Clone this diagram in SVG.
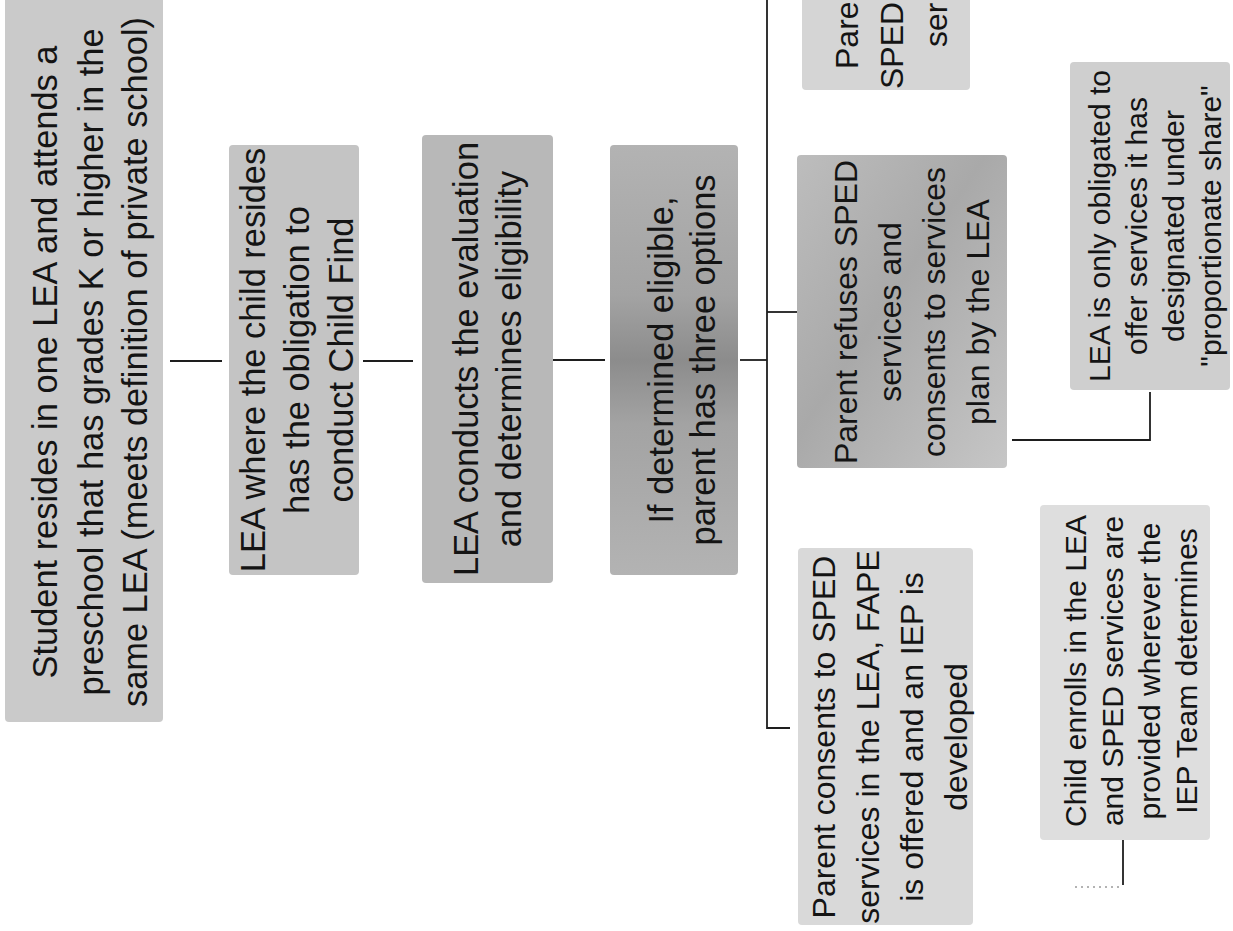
<svg xmlns="http://www.w3.org/2000/svg" width="1233" height="931" viewBox="0 0 1233 931">
<defs>
<style>
.box{stroke:none;}
.t{font-family:"Liberation Sans",Arial,sans-serif;fill:#141414;}
.big{font-size:34.4px;}
.mid{font-size:32px;}
.sm{font-size:30px;}
.c{text-anchor:middle;}
.conn{fill:none;stroke:#1e1e1e;stroke-width:1.8;}
.faint{fill:none;stroke:#9a9a9a;stroke-width:1.4;stroke-dasharray:2 4;}
</style>
<linearGradient id="g4" x1="0" y1="0" x2="0" y2="1">
<stop offset="0" stop-color="#b3b3b3"/>
<stop offset="0.35" stop-color="#a3a3a3"/>
<stop offset="0.5" stop-color="#8c8c8c"/>
<stop offset="0.65" stop-color="#a3a3a3"/>
<stop offset="1" stop-color="#b3b3b3"/>
</linearGradient>
<linearGradient id="gr" x1="0" y1="0" x2="1" y2="1">
<stop offset="0" stop-color="#bdbdbd"/>
<stop offset="0.45" stop-color="#a9a9a9"/>
<stop offset="1" stop-color="#c6c6c6"/>
</linearGradient>
</defs>
<rect width="1233" height="931" fill="#ffffff"/>

<g id="connectors">
<line class="conn" x1="170" y1="361" x2="222" y2="361"/>
<line class="conn" x1="363" y1="361" x2="413" y2="361"/>
<line class="conn" x1="553" y1="360" x2="605" y2="360"/>
<line class="conn" x1="740" y1="360" x2="767" y2="360"/>
<polyline class="conn" points="767,0 767,728 790,728"/>
<line class="conn" x1="767" y1="312" x2="797" y2="312"/>
<polyline class="conn" points="1012,440 1150,440 1150,392"/>
<line class="conn" x1="1123" y1="840" x2="1123" y2="885"/>
<line class="faint" x1="1075" y1="887" x2="1123" y2="887"/>
</g>

<g id="node-student">
<rect class="box" x="5" y="-5" width="158" height="727" rx="4" fill="#cacaca"/>
<text class="t big c" transform="translate(57,362) rotate(-90)"><tspan x="0" y="0">Student resides in one LEA and attends a</tspan><tspan x="0" y="46">preschool that has grades K or higher in the</tspan><tspan x="0" y="90">same LEA (meets definition of private school)</tspan></text>
</g>

<g id="node-childfind">
<rect class="box" x="229" y="145" width="130" height="430" rx="4" fill="#c4c4c4"/>
<text class="t big c" transform="translate(265,360) rotate(-90)"><tspan x="0" y="0">LEA where the child resides</tspan><tspan x="0" y="44">has the obligation to</tspan><tspan x="0" y="88">conduct Child Find</tspan></text>
</g>

<g id="node-evaluation">
<rect class="box" x="422" y="135" width="131" height="448" rx="4" fill="#b8b8b8"/>
<text class="t big c" transform="translate(478,359) rotate(-90)"><tspan x="0" y="0">LEA conducts the evaluation</tspan><tspan x="0" y="43">and determines eligibility</tspan></text>
</g>

<g id="node-options">
<rect class="box" x="610" y="145" width="128" height="430" rx="4" fill="url(#g4)"/>
<text class="t big c" transform="translate(673,360) rotate(-90)"><tspan x="0" y="0">If determined eligible,</tspan><tspan x="0" y="42">parent has three options</tspan></text>
</g>

<g id="node-top">
<rect class="box" x="802" y="-5" width="168" height="95" rx="4" fill="#d5d5d5"/>
<text class="t mid" transform="translate(858,69) rotate(-90)">Pare</text>
<text class="t mid" transform="translate(903,89) rotate(-90)">SPED</text>
<text class="t mid" transform="translate(947,47) rotate(-90)">ser</text>
</g>

<g id="node-refuses">
<rect class="box" x="797" y="155" width="210" height="313" rx="4" fill="url(#gr)"/>
<text class="t mid c" transform="translate(857,312) rotate(-90)"><tspan x="0" y="0">Parent refuses SPED</tspan><tspan x="0" y="44">services and</tspan><tspan x="0" y="88">consents to services</tspan><tspan x="0" y="132">plan by the LEA</tspan></text>
</g>

<g id="node-consents">
<rect class="box" x="798" y="548" width="175" height="377" rx="4" fill="#d9d9d9"/>
<text class="t mid c" transform="translate(835,737) rotate(-90)"><tspan x="0" y="0">Parent consents to SPED</tspan><tspan x="0" y="44">services in the LEA, FAPE</tspan><tspan x="0" y="88">is offered and an IEP is</tspan><tspan x="0" y="132">developed</tspan></text>
</g>

<g id="node-proportionate">
<rect class="box" x="1070" y="62" width="160" height="328" rx="4" fill="#cfcfcf"/>
<text class="t sm c" transform="translate(1110,226) rotate(-90)"><tspan x="0" y="0">LEA is only obligated to</tspan><tspan x="0" y="37">offer services it has</tspan><tspan x="0" y="74">designated under</tspan><tspan x="0" y="111">"proportionate share"</tspan></text>
</g>

<g id="node-enrolls">
<rect class="box" x="1040" y="505" width="170" height="335" rx="4" fill="#dedede"/>
<text class="t sm c" transform="translate(1086,671) rotate(-90)"><tspan x="0" y="0">Child enrolls in the LEA</tspan><tspan x="0" y="37">and SPED services are</tspan><tspan x="0" y="74">provided wherever the</tspan><tspan x="0" y="111">IEP Team determines</tspan></text>
</g>
</svg>
